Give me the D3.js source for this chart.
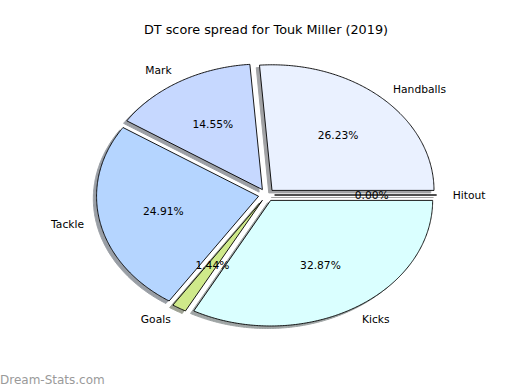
<!DOCTYPE html>
<html>
<head>
<meta charset="utf-8">
<script src="https://cdn.jsdelivr.net/npm/d3@7"></script>
<style>
  html, body { margin: 0; padding: 0; background: #fff; }
  svg { display: block; }
  text { font-family: "DejaVu Sans", sans-serif; }
</style>
</head>
<body>
<svg id="chart" width="520" height="390"></svg>
<script>
const categories = ["Handballs", "Mark", "Tackle", "Goals", "Kicks", "Hitout"];
const values = [26.23, 14.55, 24.91, 1.44, 32.87, 0.00];
const colors = ["#eaf1ff", "#c6d8ff", "#b5d5ff", "#cfe98a", "#daffff", "#ffffff"];
const explode = [0.05, 0.05, 0.05, 0.05, 0.05, 0.05];
const title = "DT score spread for Touk Miller (2019)";
const watermark = "Dream-Stats.com";

const svg = d3.select("#chart");
const x = d3.scaleLinear().domain([-1.25, 1.25]).range([64, 469]);
const y = d3.scaleLinear().domain([-1.25, 1.25]).range([352, 38]);

// counterclockwise from 3 o'clock, like matplotlib
const pie = d3.pie().sort(null).value(d => d).startAngle(0).endAngle(2 * Math.PI);
const arcs = pie(values);

const line = d3.line().x(p => x(p[0])).y(p => y(p[1]));

function wedgePoints(a, ex, shift) {
  const t1 = a.startAngle, t2 = a.endAngle, tm = (t1 + t2) / 2;
  const ox = ex * Math.cos(tm) + shift[0], oy = ex * Math.sin(tm) + shift[1];
  const pts = [[ox, oy]];
  const n = Math.max(2, Math.ceil((t2 - t1) / 0.01));
  for (let i = 0; i <= n; i++) {
    const t = t1 + (t2 - t1) * i / n;
    pts.push([ox + Math.cos(t), oy + Math.sin(t)]);
  }
  pts.push([ox, oy]);
  return pts;
}

function darken(c) {
  const r = d3.rgb(c);
  return d3.rgb(r.r * 0.3, r.g * 0.3, r.b * 0.3).toString();
}

// shadows
svg.append("g").selectAll("path").data(arcs).join("path")
  .attr("d", (a, i) => line(wedgePoints(a, explode[i], [-0.02, -0.02])) + "Z")
  .attr("fill", (a, i) => darken(colors[i]))
  .attr("stroke", (a, i) => darken(colors[i]))
  .attr("stroke-width", 1)
  .attr("opacity", 0.5);

// wedges
svg.append("g").selectAll("path").data(arcs).join("path")
  .attr("d", (a, i) => line(wedgePoints(a, explode[i], [0, 0])) + "Z")
  .attr("fill", (a, i) => colors[i])
  .attr("stroke", "#000")
  .attr("stroke-width", 0.9)
  .attr("stroke-linejoin", "round");

// labels
const lab = svg.append("g");
arcs.forEach((a, i) => {
  const tm = (a.startAngle + a.endAngle) / 2;
  const ox = explode[i] * Math.cos(tm), oy = explode[i] * Math.sin(tm);
  const lx = ox + 1.1 * Math.cos(tm), ly = oy + 1.1 * Math.sin(tm);
  lab.append("text")
    .attr("x", x(lx)).attr("y", y(ly))
    .attr("dy", "0.35em")
    .attr("text-anchor", lx > 0 ? "start" : "end")
    .attr("font-size", "10.7px")
    .attr("fill", "#000")
    .text(categories[i]);
  const px = ox + 0.6 * Math.cos(tm), py = oy + 0.6 * Math.sin(tm);
  lab.append("text")
    .attr("x", x(px)).attr("y", y(py))
    .attr("dy", "0.35em")
    .attr("text-anchor", "middle")
    .attr("font-size", "10.7px")
    .attr("fill", "#000")
    .text(values[i].toFixed(2) + "%");
});

svg.append("text")
  .attr("x", 266).attr("y", 34)
  .attr("text-anchor", "middle")
  .attr("font-size", "12.8px")
  .attr("fill", "#000")
  .text(title);

svg.append("text")
  .attr("x", 0).attr("y", 384)
  .attr("font-size", "12px")
  .attr("fill", "#9a9a9a")
  .text(watermark);
</script>
</body>
</html>
